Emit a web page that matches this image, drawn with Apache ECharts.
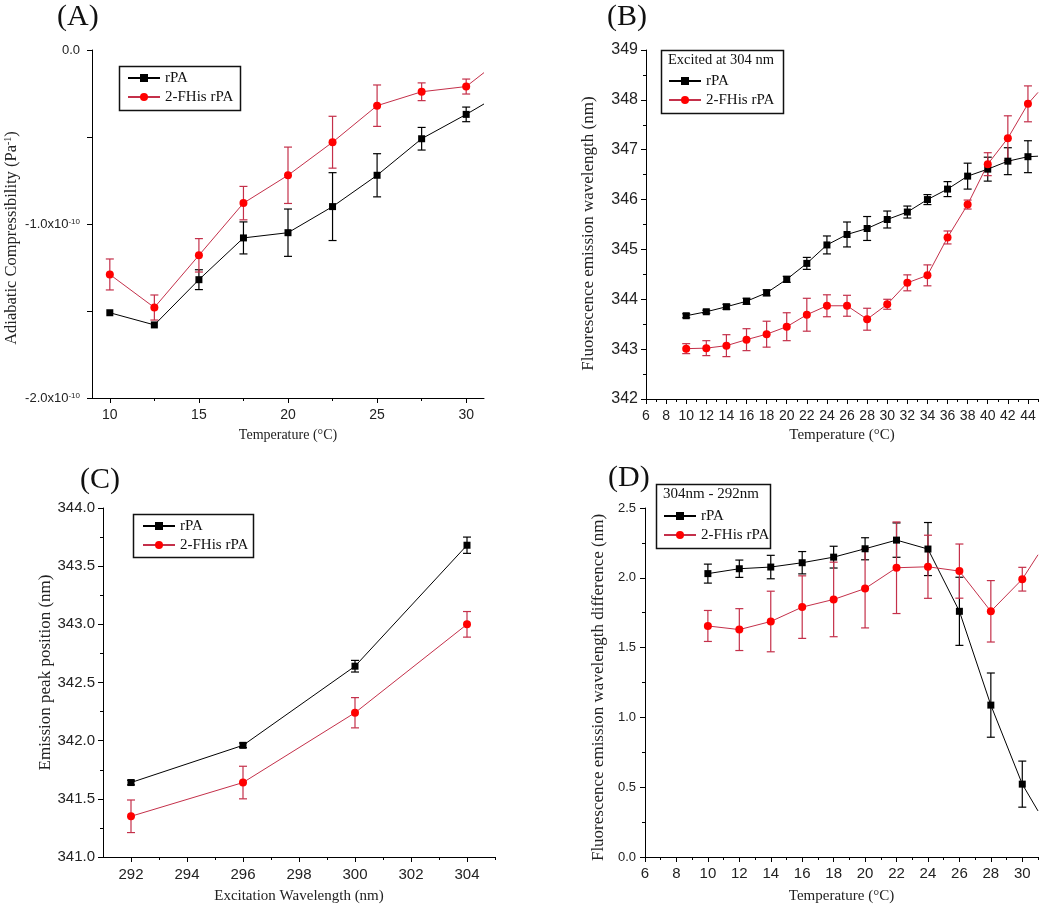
<!DOCTYPE html>
<html>
<head>
<meta charset="utf-8">
<script src="https://cdn.jsdelivr.net/npm/echarts@6/dist/echarts.min.js"></script>
<style>
  html, body { margin: 0; padding: 0; background: #fff; }
  #chart { width: 1050px; height: 912px; }
</style>
</head>
<body>
<div id="chart"></div>
<script>
// ---- (A) adiabatic compressibility, values in units of 1e-10 Pa^-1 ----
const tempA = [10, 12.5, 15, 17.5, 20, 22.5, 25, 27.5, 30];
const compRPA = [-1.51, -1.58, -1.32, -1.08, -1.05, -0.90, -0.72, -0.51, -0.37];
const compRPAErr = [0, 0, 0.057, 0.092, 0.136, 0.195, 0.124, 0.065, 0.042];
const compFHis = [-1.29, -1.48, -1.18, -0.88, -0.72, -0.53, -0.32, -0.24, -0.21];
const compFHisErr = [0.089, 0.072, 0.096, 0.096, 0.162, 0.149, 0.119, 0.051, 0.043];
const compTailRPA = [31, -0.31];   // lines run on to the axis end
const compTailFHis = [31, -0.13];

// ---- (B) emission wavelength, excited at 304 nm ----
const tempB = [10, 12, 14, 16, 18, 20, 22, 24, 26, 28, 30, 32, 34, 36, 38, 40, 42, 44];
const emRPA = [343.67, 343.75, 343.85, 343.96, 344.13, 344.40, 344.72, 345.09, 345.30,
  345.42, 345.60, 345.75, 346.00, 346.21, 346.47, 346.61, 346.77, 346.86];
const emRPAErr = [0.04, 0.03, 0.05, 0.06, 0.06, 0.06, 0.12, 0.18, 0.25,
  0.24, 0.17, 0.12, 0.10, 0.15, 0.26, 0.24, 0.27, 0.32];
const emFHis = [343.01, 343.02, 343.07, 343.19, 343.30, 343.45, 343.69, 343.87, 343.87,
  343.60, 343.90, 344.33, 344.48, 345.24, 345.90, 346.71, 347.23, 347.92];
const emFHisErr = [0.10, 0.15, 0.22, 0.22, 0.26, 0.28, 0.33, 0.22, 0.21,
  0.22, 0.10, 0.16, 0.21, 0.13, 0.09, 0.23, 0.45, 0.36];
const emTailRPA = [45, 346.87];
const emTailFHis = [45, 348.15];

// ---- (C) emission peak vs excitation wavelength ----
const excWl = [292, 296, 300, 304];
const peakRPA = [341.64, 341.96, 342.64, 343.68];
const peakRPAErr = [0.02, 0.02, 0.05, 0.07];
const peakFHis = [341.35, 341.64, 342.24, 343.00];
const peakFHisErr = [0.14, 0.14, 0.13, 0.11];

// ---- (D) 304nm - 292nm difference ----
const tempD = [10, 12, 14, 16, 18, 20, 22, 24, 26, 28, 30];
const diffRPA = [2.03, 2.065, 2.077, 2.108, 2.148, 2.208, 2.27, 2.206, 1.76, 1.088, 0.522];
const diffRPAErr = [0.068, 0.062, 0.084, 0.08, 0.078, 0.079, 0.123, 0.19, 0.244, 0.23, 0.165];
const diffFHis = [1.655, 1.629, 1.687, 1.79, 1.845, 1.923, 2.072, 2.079, 2.048, 1.76, 1.99];
const diffFHisErr = [0.111, 0.15, 0.217, 0.224, 0.267, 0.282, 0.328, 0.226, 0.194, 0.22, 0.085];
const diffTailRPA = [31, 0.33];
const diffTailFHis = [31, 2.165];

// ---- tick values ----
const ticksAx = [10, 15, 20, 25, 30];
const minorAx = [12.5, 17.5, 22.5, 27.5];
const ticksAy = [0, -0.5, -1, -1.5, -2];
const labelsAy = [0, -1, -2];
const ticksBx = [6, 8, 10, 12, 14, 16, 18, 20, 22, 24, 26, 28, 30, 32, 34, 36, 38, 40, 42, 44];
const minorBx = [7, 9, 11, 13, 15, 17, 19, 21, 23, 25, 27, 29, 31, 33, 35, 37, 39, 41, 43, 45];
const ticksBy = [342, 343, 344, 345, 346, 347, 348, 349];
const minorBy = [342.5, 343.5, 344.5, 345.5, 346.5, 347.5, 348.5];
const ticksCx = [292, 294, 296, 298, 300, 302, 304];
const minorCx = [293, 295, 297, 299, 301, 303, 305];
const ticksCy = [341, 341.5, 342, 342.5, 343, 343.5, 344];
const minorCy = [341.25, 341.75, 342.25, 342.75, 343.25, 343.75];
const ticksDx = [6, 8, 10, 12, 14, 16, 18, 20, 22, 24, 26, 28, 30];
const minorDx = [7, 9, 11, 13, 15, 17, 19, 21, 23, 25, 27, 29, 31];
const ticksDy = [0, 0.5, 1, 1.5, 2, 2.5];
const minorDy = [0.25, 0.75, 1.25, 1.75, 2.25];

const SANS = 'Liberation Sans';
const SERIF = 'Liberation Serif';
const BLACK = '#000';
const RED = '#ff0000';
const RED_LINE = '#c4304a';

const chart = echarts.init(document.getElementById('chart'));

const grids = [
  { left: 92, top: 50, width: 392, height: 348 },
  { left: 646, top: 50, width: 392, height: 349 },
  { left: 103, top: 508, width: 392, height: 349 },
  { left: 645, top: 508, width: 393, height: 349 }
];

function axisPair(dim, g, min, max, major, minor, cfg) {
  const main = {
    type: 'value', gridIndex: g, min, max,
    position: dim === 'x' ? 'bottom' : 'left',
    axisLine: { show: true, onZero: false, lineStyle: { color: BLACK, width: 1 } },
    axisTick: { show: true, customValues: major, length: 5, lineStyle: { color: BLACK } },
    axisLabel: {
      customValues: cfg.labels || major, margin: cfg.margin,
      color: '#222', fontFamily: SANS, fontSize: cfg.fontSize,
      formatter: cfg.formatter, rich: cfg.rich
    },
    splitLine: { show: false },
    name: cfg.name, nameLocation: 'middle', nameGap: cfg.nameGap,
    nameTextStyle: {
      fontFamily: SERIF, fontSize: cfg.nameSize, color: '#222',
      rich: cfg.nameRich, padding: cfg.namePad || 0
    }
  };
  const sub = {
    type: 'value', gridIndex: g, min, max,
    position: dim === 'x' ? 'bottom' : 'left',
    axisLine: { show: false, onZero: false },
    axisTick: { show: true, customValues: minor, length: 3, lineStyle: { color: BLACK } },
    axisLabel: { show: false },
    splitLine: { show: false }
  };
  return [main, sub];
}

const supRich = { sup: { fontSize: 10, lineHeight: 8, verticalAlign: 'top', fontFamily: SERIF } };

const xAxis = [].concat(
  axisPair('x', 0, 9, 31, ticksAx, minorAx, {
    fontSize: 14, margin: 10, name: 'Temperature (°C)', nameGap: 30, nameSize: 14
  }),
  axisPair('x', 1, 6, 45, ticksBx, minorBx, {
    fontSize: 14, margin: 10, name: 'Temperature (°C)', nameGap: 29, nameSize: 15
  }),
  axisPair('x', 2, 291, 305, ticksCx, minorCx, {
    fontSize: 15, margin: 10, name: 'Excitation Wavelength (nm)', nameGap: 32, nameSize: 15
  }),
  axisPair('x', 3, 6, 31, ticksDx, minorDx, {
    fontSize: 15, margin: 9, name: 'Temperature (°C)', nameGap: 32, nameSize: 15
  })
);

const yAxis = [].concat(
  axisPair('y', 0, -2, 0, ticksAy, [], {
    fontSize: 13, margin: 12, labels: labelsAy,
    formatter: v => (v === 0 ? '0.0' : v.toFixed(1) + 'x10{s|-10}'),
    rich: { s: { fontSize: 8, lineHeight: 7, verticalAlign: 'top', fontFamily: SANS, color: '#222' } },
    name: 'Adiabatic Compressibility (Pa{sup|-1})', nameGap: 72, nameSize: 16.5, nameRich: supRich,
    namePad: [0, 28, 0, 0]
  }),
  axisPair('y', 1, 342, 349, ticksBy, minorBy, {
    fontSize: 16, margin: 8, formatter: v => String(v),
    name: 'Fluorescence emission wavelength (nm)', nameGap: 49, nameSize: 17,
    namePad: [0, 18, 0, 0]
  }),
  axisPair('y', 2, 341, 344, ticksCy, minorCy, {
    fontSize: 15, margin: 8, formatter: v => v.toFixed(1),
    name: 'Emission peak position (nm)', nameGap: 49, nameSize: 17,
    namePad: [0, 0, 0, 20]
  }),
  axisPair('y', 3, 0, 2.5, ticksDy, minorDy, {
    fontSize: 13, margin: 9, formatter: v => v.toFixed(1),
    name: 'Fluorescence emission wavelength difference (nm)', nameGap: 38, nameSize: 17,
    namePad: [0, 10, 0, 0]
  })
);

function lineSeries(g, name, xs, ys, tail, isRed) {
  const data = xs.map((x, i) => [x, ys[i]]);
  if (tail) data.push({ value: tail, symbol: 'none' });
  return {
    type: 'line', name, xAxisIndex: 2 * g, yAxisIndex: 2 * g, z: 3,
    data,
    symbol: isRed ? 'circle' : 'rect',
    symbolSize: isRed ? 8 : 7,
    itemStyle: { color: isRed ? RED : BLACK },
    lineStyle: { color: isRed ? RED_LINE : BLACK, width: 1 },
    emphasis: { disabled: true }
  };
}

function errorSeries(g, xs, ys, errs, isRed) {
  const color = isRed ? RED_LINE : BLACK;
  return {
    type: 'custom', xAxisIndex: 2 * g, yAxisIndex: 2 * g, z: 2, silent: true,
    data: xs.map((x, i) => [x, ys[i], errs[i]]),
    renderItem(params, api) {
      const x = api.value(0), y = api.value(1), e = api.value(2);
      if (!e) return null;
      const top = api.coord([x, y + e]);
      const bot = api.coord([x, y - e]);
      const w = 4;
      const style = { stroke: color, lineWidth: 1.2 };
      return {
        type: 'group',
        children: [
          { type: 'line', shape: { x1: top[0], y1: top[1], x2: bot[0], y2: bot[1] }, style },
          { type: 'line', shape: { x1: top[0] - w, y1: top[1], x2: top[0] + w, y2: top[1] }, style },
          { type: 'line', shape: { x1: bot[0] - w, y1: bot[1], x2: bot[0] + w, y2: bot[1] }, style }
        ]
      };
    }
  };
}

const series = [
  errorSeries(0, tempA, compRPA, compRPAErr, false),
  errorSeries(0, tempA, compFHis, compFHisErr, true),
  lineSeries(0, 'rPA', tempA, compRPA, compTailRPA, false),
  lineSeries(0, '2-FHis rPA', tempA, compFHis, compTailFHis, true),

  errorSeries(1, tempB, emRPA, emRPAErr, false),
  errorSeries(1, tempB, emFHis, emFHisErr, true),
  lineSeries(1, 'rPA', tempB, emRPA, emTailRPA, false),
  lineSeries(1, '2-FHis rPA', tempB, emFHis, emTailFHis, true),

  errorSeries(2, excWl, peakRPA, peakRPAErr, false),
  errorSeries(2, excWl, peakFHis, peakFHisErr, true),
  lineSeries(2, 'rPA', excWl, peakRPA, null, false),
  lineSeries(2, '2-FHis rPA', excWl, peakFHis, null, true),

  errorSeries(3, tempD, diffRPA, diffRPAErr, false),
  errorSeries(3, tempD, diffFHis, diffFHisErr, true),
  lineSeries(3, 'rPA', tempD, diffRPA, diffTailRPA, false),
  lineSeries(3, '2-FHis rPA', tempD, diffFHis, diffTailFHis, true)
];

function legendAt(left, top) {
  return {
    left, top, orient: 'vertical', padding: 0, z: 10,
    itemWidth: 32, itemHeight: 10, itemGap: 3,
    selectedMode: false,
    data: ['rPA', '2-FHis rPA'],
    textStyle: { fontFamily: SERIF, fontSize: 15, color: '#111', lineHeight: 16 }
  };
}

const legend = [
  legendAt(127, 70),
  legendAt(668, 73),
  legendAt(142, 518),
  legendAt(663, 508)
];

function box(x, y, w, h) {
  return { type: 'rect', left: x, top: y, shape: { width: w, height: h },
    style: { fill: 'none', stroke: '#111', lineWidth: 1.5 }, z: 1 };
}
function label(text, x, y, size) {
  return { type: 'text', left: x, top: y, z: 20,
    style: { text, fontFamily: SERIF, fontSize: size, fill: '#111' } };
}

const graphic = [
  box(117, 64, 121, 44),
  box(659, 48, 122, 63),
  box(131, 512, 120, 43),
  box(654, 482, 114, 64),
  label('Excited at 304 nm', 668, 53, 14.5),
  label('304nm - 292nm', 663, 487, 15),
  label('(A)', 57, 2, 30),
  label('(B)', 607, 2, 30),
  label('(C)', 80, 465, 30),
  label('(D)', 608, 463, 30)
];

chart.setOption({
  backgroundColor: '#fff',
  animation: false,
  grid: grids.map(g => Object.assign({ containLabel: false, outerBoundsMode: 'none' }, g)),
  xAxis,
  yAxis,
  legend,
  graphic,
  series
});
</script>
</body>
</html>
